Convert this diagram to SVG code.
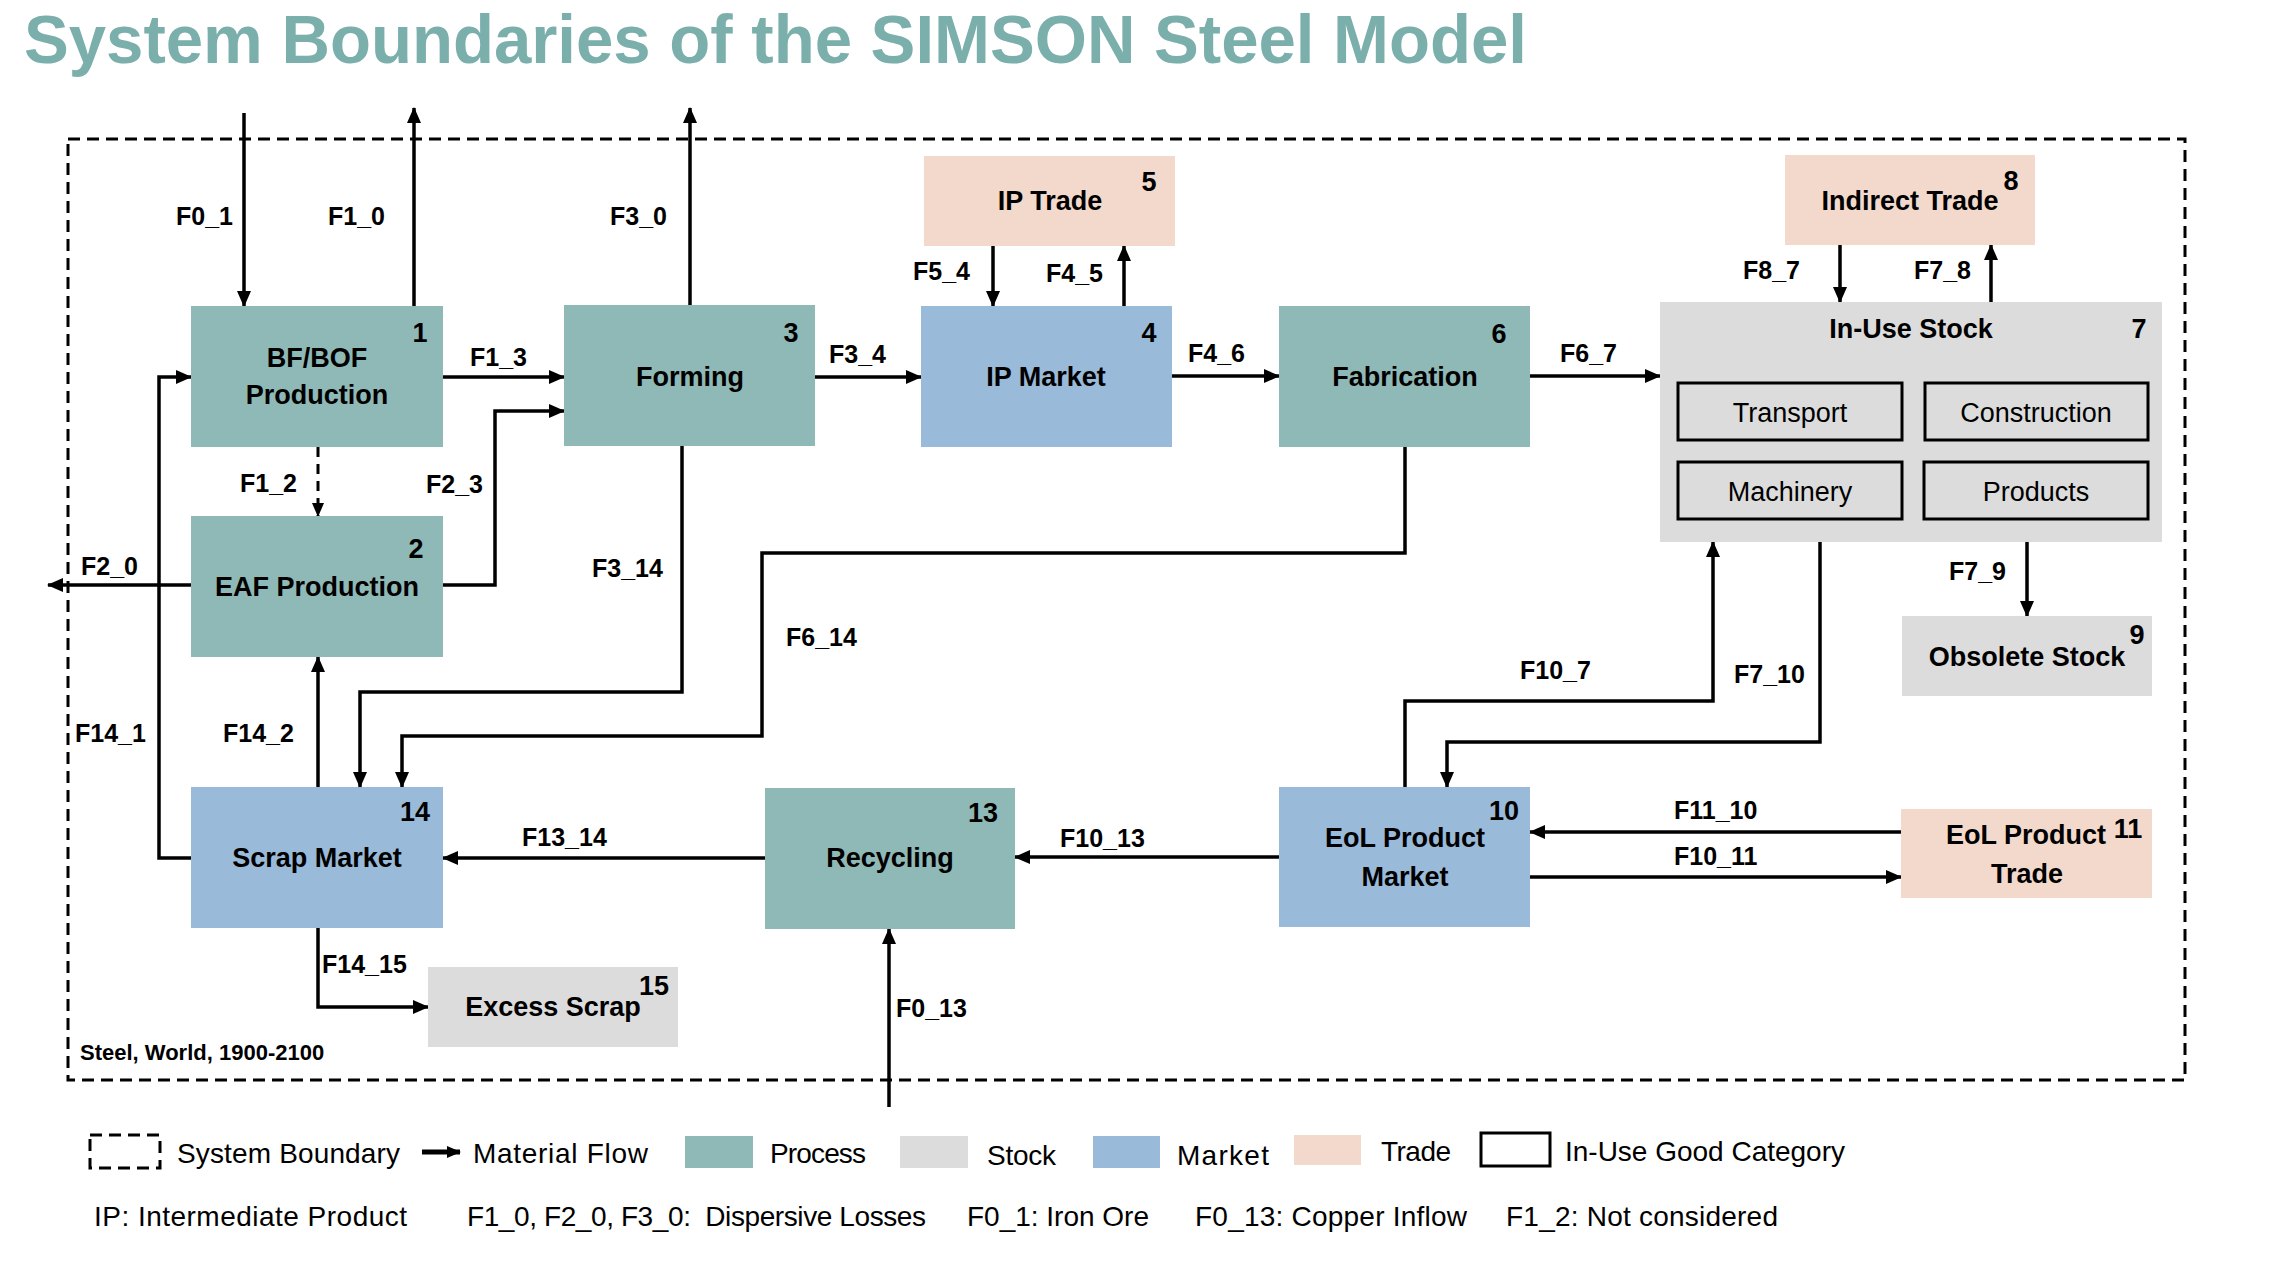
<svg xmlns="http://www.w3.org/2000/svg" width="2280" height="1268" viewBox="0 0 2280 1268">
<defs>
<style>
text{font-family:"Liberation Sans",Arial,sans-serif;fill:#000}
.title{font-size:68px;font-weight:bold;fill:#7BAFAC}
.lbl{font-size:27px;font-weight:bold;text-anchor:middle}
.num{font-size:27px;font-weight:bold;text-anchor:middle}
.fl{font-size:25px;font-weight:bold}
.sub{font-size:27px;text-anchor:middle}
.leg{font-size:28px}
.proc{fill:#8FB9B6}
.mkt{fill:#9ABAD9}
.trade{fill:#F2D9CB}
.stock{fill:#DCDCDC}
.cat{fill:none;stroke:#000;stroke-width:3}
.c{fill:none;stroke:#000;stroke-width:3.5;marker-end:url(#ah)}
.dash{fill:none;stroke:#000;stroke-width:3;stroke-dasharray:12 7}
</style>
<marker id="ah" markerUnits="userSpaceOnUse" markerWidth="16" markerHeight="14" refX="15" refY="7" orient="auto">
<path d="M0,0 L16,7 L0,14 z" fill="#000"/>
</marker>
<marker id="ahs" markerUnits="userSpaceOnUse" markerWidth="14" markerHeight="12" refX="13" refY="6" orient="auto">
<path d="M0,0 L14,6 L0,12 z" fill="#000"/>
</marker>
</defs>
<rect width="2280" height="1268" fill="#fff"/>
<text class="title" x="24" y="63" textLength="1503" lengthAdjust="spacingAndGlyphs">System Boundaries of the SIMSON Steel Model</text>

<rect id="system-boundary" class="dash" x="68" y="139" width="2117" height="941"/>
<text x="80" y="1060" style="font-size:22px;font-weight:bold">Steel, World, 1900-2100</text>

<g id="connectors">
<path class="c" d="M244,113 V306"/>
<path class="c" d="M414,306 V108"/>
<path class="c" d="M690,305 V108"/>
<path class="c" d="M443,377 H564"/>
<path class="c" d="M443,585 H495 V411 H564"/>
<path class="c" d="M191,858 H159 V377 H191"/>
<path d="M318,447 V516" fill="none" stroke="#000" stroke-width="3" stroke-dasharray="10 7" marker-end="url(#ahs)"/>
<path class="c" d="M191,585 H48"/>
<path class="c" d="M318,787 V657"/>
<path class="c" d="M682,446 V692 H360 V787"/>
<path class="c" d="M1405,447 V553 H762 V736 H402 V787"/>
<path class="c" d="M815,377 H921"/>
<path class="c" d="M1172,376 H1279"/>
<path class="c" d="M1530,376 H1660"/>
<path class="c" d="M993,246 V306"/>
<path class="c" d="M1124,306 V246"/>
<path class="c" d="M1840,245 V302"/>
<path class="c" d="M1991,302 V245"/>
<path class="c" d="M2027,542 V616"/>
<path class="c" d="M1405,787 V701 H1713 V542"/>
<path class="c" d="M1820,542 V742 H1447 V787"/>
<path class="c" d="M1901,832 H1530"/>
<path class="c" d="M1530,877 H1901"/>
<path class="c" d="M1279,857 H1015"/>
<path class="c" d="M765,858 H443"/>
<path class="c" d="M318,928 V1007 H428"/>
<path class="c" d="M889,1107 V929"/>
<text class="fl" x="176" y="225">F0_1</text>
<text class="fl" x="328" y="225">F1_0</text>
<text class="fl" x="610" y="225">F3_0</text>
<text class="fl" x="470" y="366">F1_3</text>
<text class="fl" x="426" y="493">F2_3</text>
<text class="fl" x="240" y="492">F1_2</text>
<text class="fl" x="81" y="575">F2_0</text>
<text class="fl" x="592" y="577">F3_14</text>
<text class="fl" x="786" y="646">F6_14</text>
<text class="fl" x="75" y="742">F14_1</text>
<text class="fl" x="223" y="742">F14_2</text>
<text class="fl" x="829" y="363">F3_4</text>
<text class="fl" x="1188" y="362">F4_6</text>
<text class="fl" x="1560" y="362">F6_7</text>
<text class="fl" x="913" y="280">F5_4</text>
<text class="fl" x="1046" y="282">F4_5</text>
<text class="fl" x="1743" y="279">F8_7</text>
<text class="fl" x="1914" y="279">F7_8</text>
<text class="fl" x="1949" y="580">F7_9</text>
<text class="fl" x="1520" y="679">F10_7</text>
<text class="fl" x="1734" y="683">F7_10</text>
<text class="fl" x="1674" y="819">F11_10</text>
<text class="fl" x="1674" y="865">F10_11</text>
<text class="fl" x="1060" y="847">F10_13</text>
<text class="fl" x="522" y="846">F13_14</text>
<text class="fl" x="322" y="973">F14_15</text>
<text class="fl" x="896" y="1017">F0_13</text>
</g>

<g id="node-1">
<rect class="proc" x="191" y="306" width="252" height="141"/>
<text class="lbl" x="317" y="367">BF/BOF</text>
<text class="lbl" x="317" y="404">Production</text>
<text class="num" x="420" y="342">1</text>
</g>
<g id="node-2">
<rect class="proc" x="191" y="516" width="252" height="141"/>
<text class="lbl" x="317" y="596">EAF Production</text>
<text class="num" x="416" y="558">2</text>
</g>
<g id="node-3">
<rect class="proc" x="564" y="305" width="251" height="141"/>
<text class="lbl" x="690" y="386">Forming</text>
<text class="num" x="791" y="342">3</text>
</g>
<g id="node-4">
<rect class="mkt" x="921" y="306" width="251" height="141"/>
<text class="lbl" x="1046" y="386">IP Market</text>
<text class="num" x="1149" y="342">4</text>
</g>
<g id="node-5">
<rect class="trade" x="924" y="156" width="251" height="90"/>
<text class="lbl" x="1050" y="210">IP Trade</text>
<text class="num" x="1149" y="191">5</text>
</g>
<g id="node-6">
<rect class="proc" x="1279" y="306" width="251" height="141"/>
<text class="lbl" x="1405" y="386">Fabrication</text>
<text class="num" x="1499" y="343">6</text>
</g>
<g id="node-7">
<rect class="stock" x="1660" y="302" width="502" height="240"/>
<text class="lbl" x="1911" y="338">In-Use Stock</text>
<text class="num" x="2139" y="338">7</text>
<rect class="cat" x="1678" y="383" width="224" height="57"/>
<rect class="cat" x="1925" y="383" width="223" height="57"/>
<rect class="cat" x="1678" y="462" width="224" height="57"/>
<rect class="cat" x="1924" y="462" width="224" height="57"/>
<text class="sub" x="1790" y="422">Transport</text>
<text class="sub" x="2036" y="422">Construction</text>
<text class="sub" x="1790" y="501">Machinery</text>
<text class="sub" x="2036" y="501">Products</text>
</g>
<g id="node-8">
<rect class="trade" x="1785" y="155" width="250" height="90"/>
<text class="lbl" x="1910" y="210">Indirect Trade</text>
<text class="num" x="2011" y="190">8</text>
</g>
<g id="node-9">
<rect class="stock" x="1902" y="616" width="250" height="80"/>
<text class="lbl" x="2027" y="666">Obsolete Stock</text>
<text class="num" x="2137" y="644">9</text>
</g>
<g id="node-10">
<rect class="mkt" x="1279" y="787" width="251" height="140"/>
<text class="lbl" x="1405" y="847">EoL Product</text>
<text class="lbl" x="1405" y="886">Market</text>
<text class="num" x="1504" y="820">10</text>
</g>
<g id="node-11">
<rect class="trade" x="1901" y="809" width="251" height="89"/>
<text class="lbl" x="2026" y="844">EoL Product</text>
<text class="lbl" x="2027" y="883">Trade</text>
<text class="num" x="2128" y="838">11</text>
</g>
<g id="node-13">
<rect class="proc" x="765" y="788" width="250" height="141"/>
<text class="lbl" x="890" y="867">Recycling</text>
<text class="num" x="983" y="822">13</text>
</g>
<g id="node-14">
<rect class="mkt" x="191" y="787" width="252" height="141"/>
<text class="lbl" x="317" y="867">Scrap Market</text>
<text class="num" x="415" y="821">14</text>
</g>
<g id="node-15">
<rect class="stock" x="428" y="967" width="250" height="80"/>
<text class="lbl" x="553" y="1016">Excess Scrap</text>
<text class="num" x="654" y="995">15</text>
</g>

<g id="legend">
<rect class="dash" x="90" y="1135" width="70" height="33"/>
<text class="leg" x="177" y="1163" textLength="223">System Boundary</text>
<path d="M422,1152 H460" fill="none" stroke="#000" stroke-width="5" marker-end="url(#ahs)"/>
<text class="leg" x="473" y="1163" textLength="175">Material Flow</text>
<rect class="proc" x="685" y="1136" width="68" height="32"/>
<text class="leg" x="770" y="1163" textLength="96">Process</text>
<rect class="stock" x="900" y="1136" width="68" height="32"/>
<text class="leg" x="987" y="1165" textLength="69">Stock</text>
<rect class="mkt" x="1093" y="1136" width="67" height="32"/>
<text class="leg" x="1177" y="1165" textLength="92">Market</text>
<rect class="trade" x="1294" y="1135" width="67" height="30"/>
<text class="leg" x="1381" y="1161" textLength="70">Trade</text>
<rect class="cat" x="1481" y="1133" width="69" height="33"/>
<text class="leg" x="1565" y="1161" textLength="280">In-Use Good Category</text>
<text class="leg" x="94" y="1226" textLength="313">IP: Intermediate Product</text>
<text class="leg" x="467" y="1226" textLength="459" xml:space="preserve">F1_0, F2_0, F3_0:  Dispersive Losses</text>
<text class="leg" x="967" y="1226" textLength="182">F0_1: Iron Ore</text>
<text class="leg" x="1195" y="1226" textLength="272">F0_13: Copper Inflow</text>
<text class="leg" x="1506" y="1226" textLength="272">F1_2: Not considered</text>
</g>
</svg>
